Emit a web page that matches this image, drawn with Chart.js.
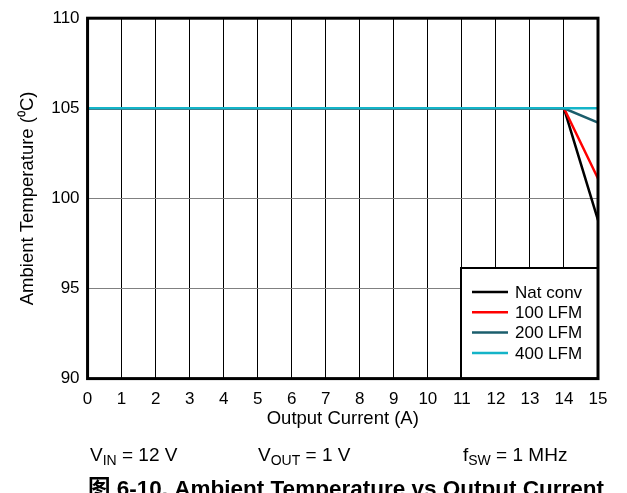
<!DOCTYPE html>
<html>
<head>
<meta charset="utf-8">
<script src="https://cdn.jsdelivr.net/npm/chart.js@4"></script>
<style>
  html, body { margin: 0; padding: 0; background: #fff; }
  #wrap { width: 627px; height: 493px; }
</style>
</head>
<body>
<div id="wrap"><canvas id="myChart" width="627" height="493"></canvas></div>
<script>
// output current (A)
const current = [0, 1, 2, 3, 4, 5, 6, 7, 8, 9, 10, 11, 12, 13, 14, 15];
// ambient temperature (C) per airflow
const natConv = [105, 105, 105, 105, 105, 105, 105, 105, 105, 105, 105, 105, 105, 105, 105, 98.8];
const lfm100  = [105, 105, 105, 105, 105, 105, 105, 105, 105, 105, 105, 105, 105, 105, 105, 101.1];
const lfm200  = [105, 105, 105, 105, 105, 105, 105, 105, 105, 105, 105, 105, 105, 105, 105, 104.2];
const lfm400  = [105, 105, 105, 105, 105, 105, 105, 105, 105, 105, 105, 105, 105, 105, 105, 105];
const seriesNames = ['Nat conv', '100 LFM', '200 LFM', '400 LFM'];
const yTicks = [90, 95, 100, 105, 110];

const FONT = "'Liberation Sans', Arial, sans-serif";

function pts(arr) {
  return current.map((c, i) => ({x: c, y: arr[i]}));
}

// legend box, frame, x title and the condition text under the plot
const extras = {
  id: 'extras',
  afterDatasetsDraw(chart) {
    const ctx = chart.ctx;
    const a = chart.chartArea;
    ctx.save();
    // legend
    const lx = 461, ly = 268, lw = a.right - 461, lh = a.bottom - 268;
    ctx.fillStyle = '#fff';
    ctx.fillRect(lx, ly, lw, lh);
    ctx.strokeStyle = '#000';
    ctx.lineWidth = 2;
    ctx.strokeRect(lx, ly, lw, lh);
    ctx.font = '17px ' + FONT;
    ctx.textBaseline = 'middle';
    chart.data.datasets.forEach((ds, i) => {
      const y = ly + 24 + i * 20.3;
      ctx.strokeStyle = ds.borderColor;
      ctx.lineWidth = 2.5;
      ctx.beginPath();
      ctx.moveTo(472, y);
      ctx.lineTo(508, y);
      ctx.stroke();
      ctx.fillStyle = '#000';
      ctx.fillText(ds.label, 515, y + 1);
    });
    // frame
    ctx.strokeStyle = '#000';
    ctx.lineWidth = 3;
    ctx.strokeRect(a.left, a.top, a.right - a.left, a.bottom - a.top);
    ctx.restore();
  },
  afterDraw(chart) {
    const ctx = chart.ctx;
    const a = chart.chartArea;
    ctx.save();
    ctx.fillStyle = '#000';
    ctx.textBaseline = 'middle';
    ctx.textAlign = 'center';
    ctx.font = '18.5px ' + FONT;
    ctx.fillText('Output Current (A)', (a.left + a.right) / 2, 419);
    ctx.textAlign = 'left';
    ctx.textBaseline = 'alphabetic';
    function sub(x, y, main, s, rest) {
      ctx.font = '19px ' + FONT;
      ctx.fillText(main, x, y);
      x += ctx.measureText(main).width;
      ctx.font = '14px ' + FONT;
      ctx.fillText(s, x, y + 4);
      x += ctx.measureText(s).width;
      ctx.font = '19px ' + FONT;
      ctx.fillText(rest, x, y);
    }
    sub(90, 461, 'V', 'IN', ' = 12 V');
    sub(258, 461, 'V', 'OUT', ' = 1 V');
    sub(463, 461, 'f', 'SW', ' = 1 MHz');
    ctx.font = "bold 22.5px 'Liberation Sans', 'Noto Sans CJK SC', Arial, sans-serif";
    ctx.fillText('图 6-10. Ambient Temperature vs Output Current', 88, 496);
    ctx.restore();
  }
};

const ctx = document.getElementById('myChart').getContext('2d');
const myChart = new Chart(ctx, {
  type: 'line',
  data: {
    datasets: [
      { label: seriesNames[0], data: pts(natConv), borderColor: '#000000', borderWidth: 2.5, pointRadius: 0, fill: false, order: 3 },
      { label: seriesNames[1], data: pts(lfm100), borderColor: '#ff0000', borderWidth: 2.5, pointRadius: 0, fill: false, order: 2 },
      { label: seriesNames[2], data: pts(lfm200), borderColor: '#1b5e6c', borderWidth: 2.5, pointRadius: 0, fill: false, order: 1 },
      { label: seriesNames[3], data: pts(lfm400), borderColor: '#14b4c8', borderWidth: 2.5, pointRadius: 0, fill: false, order: 0 }
    ]
  },
  options: {
    responsive: false,
    animation: false,
    layout: { padding: { left: 17, top: 16, right: 29, bottom: 72 } },
    plugins: {
      legend: { display: false },
      tooltip: { enabled: false }
    },
    scales: {
      x: {
        type: 'linear',
        min: 0,
        max: 15,
        afterBuildTicks(axis) { axis.ticks = current.map(v => ({value: v})); },
        grid: { color: '#000', lineWidth: 1, drawTicks: false },
        border: { display: false },
        ticks: { color: '#000', font: { size: 17, family: FONT }, padding: 11, maxRotation: 0 },
        title: { display: false }
      },
      y: {
        min: 90,
        max: 110,
        afterBuildTicks(axis) { axis.ticks = yTicks.map(v => ({value: v})); },
        grid: { color: '#808080', lineWidth: 1, drawTicks: false },
        border: { display: false },
        ticks: { color: '#000', font: { size: 17, family: FONT }, padding: 8 },
        title: { display: true, text: 'Ambient Temperature (⁰C)', color: '#000', font: { size: 18.5, family: FONT }, padding: { top: 0, bottom: 4 } }
      }
    }
  },
  plugins: [extras]
});
</script>
</body>
</html>
